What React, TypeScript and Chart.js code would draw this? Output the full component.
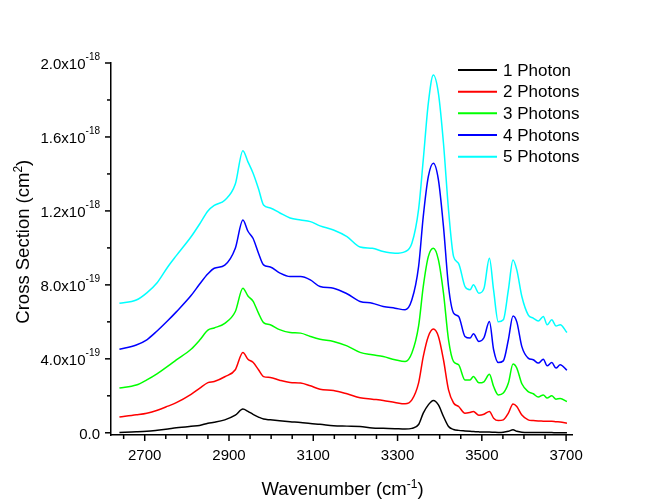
import React, { useEffect, useRef } from "react";
import { Chart, registerables } from "chart.js";

Chart.register(...registerables);

// Wavenumber grid (cm^-1)
const wavenumber = [
  2640, 2680, 2705, 2730, 2755, 2775, 2810, 2830, 2850, 2865, 2890, 2915, 2933, 2945, 2957, 2970,
  2982, 2998, 3020, 3045, 3070, 3093, 3116, 3148, 3180, 3211, 3240, 3266, 3294, 3318, 3334, 3350,
  3361, 3373, 3385, 3397, 3409, 3421, 3433, 3445, 3460, 3472, 3480, 3493, 3505, 3518, 3528, 3539,
  3551, 3563, 3574, 3583, 3595, 3610, 3622, 3634, 3646, 3655, 3666, 3676, 3686, 3702,
];

// Cross sections in units of 1e-18 cm^2
const photon1 = [
  0.002, 0.005, 0.008, 0.014, 0.021, 0.027, 0.035, 0.039, 0.052, 0.057, 0.07, 0.095, 0.128, 0.116, 0.1, 0.085,
  0.074, 0.07, 0.065, 0.06, 0.056, 0.05, 0.046, 0.038, 0.036, 0.034, 0.026, 0.024, 0.022, 0.02, 0.024, 0.045,
  0.106, 0.151, 0.175, 0.151, 0.088, 0.034, 0.018, 0.013, 0.01, 0.008, 0.007, 0.005, 0.004, 0.004, 0.003, 0.002,
  0.003, 0.008, 0.016, 0.008, 0.003, 0.002, 0.002, 0.001, 0.001, 0.001, 0.001, 0.0, 0.0, 0.0,
];
const photon2 = [
  0.085, 0.097, 0.106, 0.122, 0.144, 0.163, 0.208, 0.24, 0.271, 0.277, 0.303, 0.341, 0.434, 0.398, 0.381, 0.341,
  0.304, 0.299, 0.284, 0.272, 0.269, 0.254, 0.236, 0.229, 0.211, 0.19, 0.182, 0.175, 0.164, 0.157, 0.178, 0.27,
  0.412, 0.521, 0.561, 0.521, 0.395, 0.232, 0.161, 0.142, 0.106, 0.11, 0.115, 0.095, 0.1, 0.115, 0.079, 0.066,
  0.07, 0.106, 0.156, 0.142, 0.096, 0.07, 0.066, 0.064, 0.063, 0.062, 0.063, 0.06, 0.058, 0.052,
];
const photon3 = [
  0.242, 0.258, 0.286, 0.32, 0.36, 0.394, 0.452, 0.5, 0.555, 0.567, 0.592, 0.656, 0.782, 0.74, 0.712, 0.647,
  0.596, 0.584, 0.558, 0.542, 0.539, 0.521, 0.506, 0.494, 0.47, 0.435, 0.422, 0.412, 0.395, 0.385, 0.431, 0.578,
  0.791, 0.953, 0.998, 0.935, 0.755, 0.503, 0.385, 0.368, 0.286, 0.286, 0.304, 0.27, 0.276, 0.316, 0.25, 0.205,
  0.215, 0.269, 0.372, 0.35, 0.265, 0.223, 0.211, 0.193, 0.205, 0.188, 0.2, 0.182, 0.185, 0.169,
];
const photon4 = [
  0.452, 0.475, 0.503, 0.552, 0.607, 0.654, 0.742, 0.803, 0.86, 0.89, 0.907, 0.998, 1.151, 1.09, 1.052, 0.971,
  0.908, 0.897, 0.865, 0.845, 0.845, 0.827, 0.791, 0.782, 0.752, 0.71, 0.701, 0.683, 0.674, 0.665, 0.719, 0.9,
  1.169, 1.385, 1.458, 1.368, 1.115, 0.791, 0.647, 0.629, 0.521, 0.512, 0.535, 0.494, 0.514, 0.602, 0.449, 0.38,
  0.389, 0.503, 0.632, 0.6, 0.466, 0.404, 0.395, 0.377, 0.398, 0.362, 0.38, 0.35, 0.368, 0.338,
];
const photon5 = [
  0.7, 0.718, 0.757, 0.813, 0.898, 0.958, 1.06, 1.128, 1.2, 1.23, 1.258, 1.345, 1.526, 1.465, 1.405, 1.32,
  1.232, 1.216, 1.19, 1.162, 1.151, 1.142, 1.119, 1.097, 1.061, 1.005, 0.998, 0.98, 0.971, 0.98, 1.025, 1.21,
  1.476, 1.782, 1.935, 1.836, 1.566, 1.205, 0.953, 0.915, 0.791, 0.773, 0.8, 0.755, 0.78, 0.944, 0.77, 0.6,
  0.611, 0.773, 0.935, 0.881, 0.737, 0.638, 0.62, 0.605, 0.629, 0.584, 0.611, 0.578, 0.584, 0.542,
];

const UNIT = 1e-18;
const seriesValues = [photon1, photon2, photon3, photon4, photon5];
const seriesLabels = ["1 Photon", "2 Photons", "3 Photons", "4 Photons", "5 Photons"];
const seriesColors = ["#000000", "#FF0000", "#00FF00", "#0000FF", "#00FFFF"];

const xMajorTicks = [2700, 2900, 3100, 3300, 3500, 3700];
const xMinorTicks = [2650, 2750, 2800, 2850, 2950, 3000, 3050, 3150, 3200, 3250, 3350, 3400, 3450, 3550, 3600, 3650];
const yMajorTicks = [0, 0.4, 0.8, 1.2, 1.6, 2.0];
const yMinorTicks = [0.2, 0.6, 1.0, 1.4, 1.8];
const yTickMantissa = ["0.0", "4.0", "8.0", "1.2", "1.6", "2.0"];
const yTickExponent = ["", "-19", "-19", "-18", "-18", "-18"];

const FONT = '"Liberation Sans", Arial, Helvetica, sans-serif';

function drawWithSup(
  ctx: CanvasRenderingContext2D,
  parts: { text: string; sup?: boolean }[],
  x: number,
  y: number,
  size: number,
  supSize: number,
  supRise: number,
  align: "left" | "right" | "center"
) {
  const widths = parts.map((p) => {
    ctx.font = `${p.sup ? supSize : size}px ${FONT}`;
    return ctx.measureText(p.text).width;
  });
  const total = widths.reduce((a, b) => a + b, 0);
  let cx = align === "left" ? x : align === "right" ? x - total : x - total / 2;
  ctx.textAlign = "left";
  ctx.textBaseline = "alphabetic";
  parts.forEach((p, i) => {
    ctx.font = `${p.sup ? supSize : size}px ${FONT}`;
    ctx.fillText(p.text, cx, p.sup ? y - supRise : y);
    cx += widths[i];
  });
}

const overlayPlugin = {
  id: "overlay",
  afterDraw(chart: any) {
    const ctx: CanvasRenderingContext2D = chart.ctx;
    const xs = chart.scales.x;
    const ys = chart.scales.y;
    const area = chart.chartArea;
    ctx.save();
    ctx.strokeStyle = "#000";
    ctx.fillStyle = "#000";
    ctx.lineWidth = 1.5;

    // x ticks
    const drawXTick = (w: number, len: number) => {
      const px = xs.getPixelForValue(w);
      ctx.beginPath();
      ctx.moveTo(px, area.bottom);
      ctx.lineTo(px, area.bottom + len);
      ctx.stroke();
    };
    xMinorTicks.forEach((w) => drawXTick(w, 4));
    xMajorTicks.forEach((w) => drawXTick(w, 6));
    ctx.font = `15px ${FONT}`;
    ctx.textAlign = "center";
    ctx.textBaseline = "alphabetic";
    xMajorTicks.forEach((w) => {
      ctx.fillText(String(w), xs.getPixelForValue(w), area.bottom + 24.5);
    });

    // y ticks
    const drawYTick = (v: number, len: number) => {
      const py = ys.getPixelForValue(v * UNIT);
      ctx.beginPath();
      ctx.moveTo(area.left - len, py);
      ctx.lineTo(area.left, py);
      ctx.stroke();
    };
    yMinorTicks.forEach((v) => drawYTick(v, 4));
    yMajorTicks.forEach((v) => drawYTick(v, 6));
    yMajorTicks.forEach((v, i) => {
      const py = ys.getPixelForValue(v * UNIT);
      const parts = yTickExponent[i]
        ? [{ text: yTickMantissa[i] + "x10" }, { text: yTickExponent[i], sup: true }]
        : [{ text: yTickMantissa[i] }];
      drawWithSup(ctx, parts, area.left - 11, py + 6, 15, 10, 9, "right");
    });

    // axis titles
    drawWithSup(
      ctx,
      [{ text: "Wavenumber (cm" }, { text: "-1", sup: true }, { text: ")" }],
      342.5,
      495,
      18.5,
      12,
      7,
      "center"
    );
    ctx.save();
    ctx.translate(28.5, 241.7);
    ctx.rotate(-Math.PI / 2);
    drawWithSup(
      ctx,
      [{ text: "Cross Section (cm" }, { text: "2", sup: true }, { text: ")" }],
      0,
      0,
      18.5,
      12,
      7,
      "center"
    );
    ctx.restore();

    // legend
    const rows = [70, 91.7, 113.3, 135, 156.7];
    seriesLabels.forEach((label, i) => {
      ctx.strokeStyle = seriesColors[i];
      ctx.lineWidth = 2;
      ctx.beginPath();
      ctx.moveTo(458, rows[i]);
      ctx.lineTo(497, rows[i]);
      ctx.stroke();
      ctx.fillStyle = "#000";
      ctx.font = `17px ${FONT}`;
      ctx.textAlign = "left";
      ctx.textBaseline = "middle";
      ctx.fillText(label, 503, rows[i] + 1);
    });
    ctx.restore();
  },
};

export default function App() {
  const canvasRef = useRef<HTMLCanvasElement | null>(null);

  useEffect(() => {
    const canvas = canvasRef.current;
    if (!canvas) return;
    const datasets = seriesValues.map((vals, i) => ({
      label: seriesLabels[i],
      data: wavenumber.map((w, j) => ({ x: w, y: vals[j] * UNIT })),
      borderColor: seriesColors[i],
      backgroundColor: seriesColors[i],
      borderWidth: 1.5,
      pointRadius: 0,
      cubicInterpolationMode: "monotone" as const,
      fill: false,
    }));
    const chart = new Chart(canvas, {
      type: "line",
      data: { datasets },
      options: {
        animation: false,
        responsive: false,
        maintainAspectRatio: false,
        devicePixelRatio: 1,
        layout: { padding: { left: 0, right: 89, top: 63, bottom: 0 } },
        plugins: { legend: { display: false }, tooltip: { enabled: false }, title: { display: false } },
        scales: {
          x: {
            type: "linear",
            min: 2620,
            max: 3714,
            ticks: { display: false },
            grid: { display: false },
            border: { display: true, color: "#000", width: 1.5 },
            afterFit: (scale: any) => {
              scale.height = 65;
            },
          },
          y: {
            type: "linear",
            min: -0.012 * UNIT,
            max: 2.0 * UNIT,
            ticks: { display: false },
            grid: { display: false },
            border: { display: true, color: "#000", width: 1.5 },
            afterFit: (scale: any) => {
              scale.width = 111;
            },
          },
        },
      },
      plugins: [overlayPlugin],
    });
    return () => chart.destroy();
  }, []);

  return (
    <div style={{ position: "fixed", left: 0, top: 0, width: 661, height: 500, background: "#fff" }}>
      <canvas ref={canvasRef} width={661} height={500} style={{ width: 661, height: 500, display: "block" }} />
    </div>
  );
}
